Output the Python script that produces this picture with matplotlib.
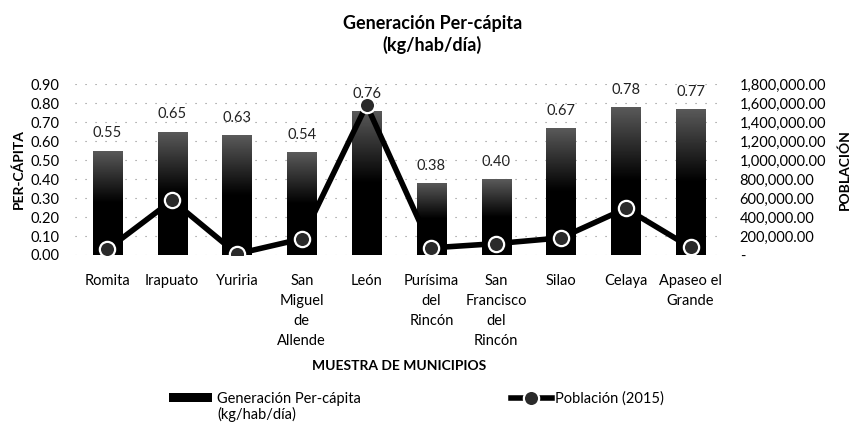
import numpy as np
import matplotlib
matplotlib.use("Agg")
import matplotlib.pyplot as plt
from matplotlib.colors import LinearSegmentedColormap
from matplotlib.ticker import FuncFormatter, MultipleLocator

plt.rcParams['font.family'] = ['Lato', 'DejaVu Sans']

# data
municipios = ['Romita', 'Irapuato', 'Yuriria', 'San\nMiguel\nde\nAllende', 'León',
              'Purísima\ndel\nRincón', 'San\nFrancisco\ndel\nRincón', 'Silao', 'Celaya',
              'Apaseo el\nGrande']
per_capita = [0.55, 0.65, 0.63, 0.54, 0.76, 0.38, 0.40, 0.67, 0.78, 0.77]
poblacion = [60000, 575000, 12000, 170000, 1580000, 75000, 120000, 180000, 490000, 80000]

FS = 10.5

fig = plt.figure(figsize=(8.56, 4.29), dpi=100)
ax = fig.add_axes([0.0876, 0.4056, 0.757, 0.3984])
ax2 = ax.twinx()

x = np.arange(len(municipios))
width = 0.45

# bars: black at the bottom fading to grey at the top
cmap = LinearSegmentedColormap.from_list('bar', ['#000000', '#000000', '#5a5a5a'])
grad = np.linspace(0, 1, 100).reshape(-1, 1)
bars = ax.bar(x, per_capita, width, color='black', zorder=2)
for b in bars:
    im = ax.imshow(grad, extent=[b.get_x(), b.get_x() + b.get_width(), 0, b.get_height()],
                   origin='lower', aspect='auto', cmap=cmap, zorder=2.5)
    im.set_clip_path(b)

for xi, v in zip(x, per_capita):
    ax.text(xi, v + 0.09, f'{v:.2f}', ha='center', va='center', fontsize=FS, color='#222222')

ax.set_xlim(-0.5, len(municipios) - 0.5)
ax.set_ylim(0, 0.9)
ax.yaxis.set_major_locator(MultipleLocator(0.1))
ax.yaxis.set_major_formatter(FuncFormatter(lambda v, p: f'{v:.2f}'))
ax.set_xticks(x)
ax.set_xticklabels(municipios, fontsize=FS, linespacing=1.55, va='top')
ax.tick_params(length=0, labelsize=FS)
ax.tick_params(axis='x', pad=13.5)
ax.tick_params(axis='y', pad=11)
ax.grid(axis='y', linestyle=(0, (1, 8)), color='#888888', linewidth=0.8, zorder=0)
ax.set_axisbelow(True)
ax.set_ylabel('PER-CÁPITA', fontsize=10, fontweight='bold', labelpad=4)
ax.set_xlabel('MUESTRA DE MUNICIPIOS', fontsize=10, fontweight='bold', labelpad=9)

ax2.plot(x, poblacion, color='black', linewidth=4, marker='o', markersize=11,
         markerfacecolor='#2a2a2a', markeredgecolor='white', markeredgewidth=1.6, zorder=3)
ax2.set_ylim(0, 1800000)
ax2.yaxis.set_major_locator(MultipleLocator(200000))
ax2.yaxis.set_major_formatter(FuncFormatter(lambda v, p: '-' if v == 0 else f'{v:,.2f}'))
ax2.tick_params(length=0, labelsize=FS, pad=12)
ax2.set_ylabel('POBLACIÓN', fontsize=10, fontweight='bold', labelpad=9)

for a in (ax, ax2):
    for s in a.spines.values():
        s.set_visible(False)

ax.set_zorder(1)
ax.patch.set_visible(False)
ax2.set_zorder(2)

fig.text(0.505, 0.966, 'Generación Per-cápita\n(kg/hab/día)', ha='center', va='top',
         fontsize=13, fontweight='bold', linespacing=1.3)

# legend: the bar label wraps onto a second line below the first
leg1 = fig.legend([bars], ['Generación Per-cápita'], loc='upper left',
                  bbox_to_anchor=(0.197, 0.087), frameon=False, fontsize=FS,
                  handlelength=3, handleheight=0.5, handletextpad=0.3, borderpad=0,
                  borderaxespad=0)
fig.text(0.2535, 0.033, '(kg/hab/día)', ha='left', va='center', fontsize=FS)
fig.legend([ax2.lines[0]], ['Población (2015)'], loc='upper left',
           bbox_to_anchor=(0.597, 0.087), frameon=False, fontsize=FS,
           handlelength=2.8, handletextpad=0.2, borderpad=0, borderaxespad=0)

fig.savefig('out.png', dpi=100)
